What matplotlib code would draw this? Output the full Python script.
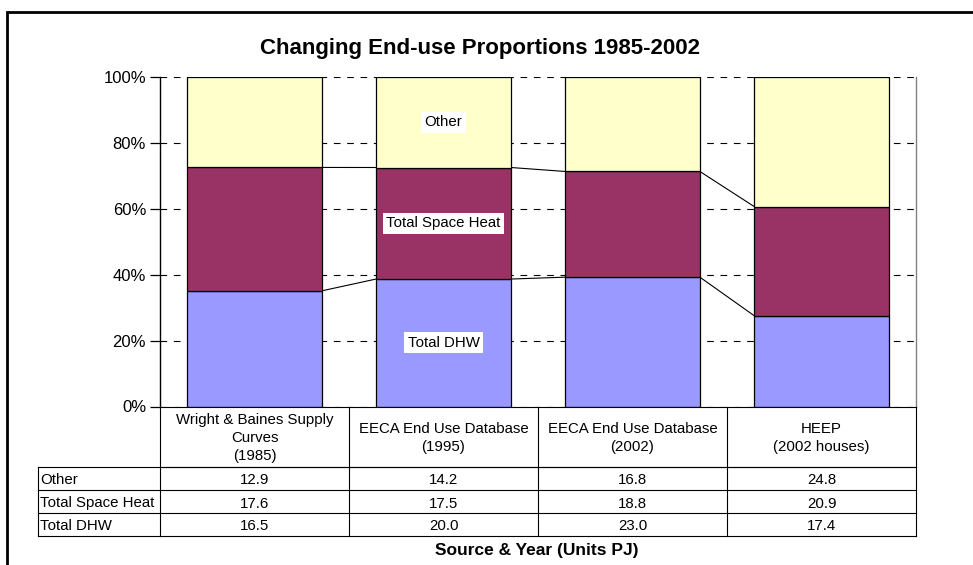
import numpy as np
import matplotlib
matplotlib.use("Agg")
import matplotlib.pyplot as plt
from matplotlib.transforms import blended_transform_factory
from matplotlib.patches import Rectangle
from matplotlib.lines import Line2D

plt.rcParams['font.family'] = ['Liberation Sans', 'DejaVu Sans']

# end-use energy by source (PJ)
categories = ["Wright & Baines Supply\nCurves\n(1985)",
              "EECA End Use Database\n(1995)",
              "EECA End Use Database\n(2002)",
              "HEEP\n(2002 houses)"]
series_names = ["Total DHW", "Total Space Heat", "Other"]
dhw = [16.5, 20.0, 23.0, 17.4]
space_heat = [17.6, 17.5, 18.8, 20.9]
other = [12.9, 14.2, 16.8, 24.8]
colours = ["#9999FF", "#993366", "#FFFFCC"]

W, H = 973, 565
fig = plt.figure(figsize=(W / 100, H / 100), dpi=100)


def fx(px):
    return px / W


def fy(py):
    return 1 - py / H


# frame round the chart
fig.patches.append(Rectangle((fx(7), fy(600)), fx(1000), fy(12) - fy(600),
                             transform=fig.transFigure, fill=False,
                             edgecolor="black", linewidth=2, zorder=10))

plot_l, plot_r, plot_t, plot_b = 160, 916, 77, 406.5
ax = fig.add_axes([fx(plot_l), fy(plot_b), fx(plot_r - plot_l), fy(plot_t) - fy(plot_b)])

values = np.array([dhw, space_heat, other])
pct = values / values.sum(axis=0) * 100
x = np.arange(len(categories))
width = 0.713

fs_small = 10.8

bottom = np.zeros(len(categories))
for i, name in enumerate(series_names):
    ax.bar(x, pct[i], width, bottom=bottom, color=colours[i],
           edgecolor="black", linewidth=0.9, zorder=3)
    # series name shown on the second column only
    ax.text(x[1], bottom[1] + pct[i][1] / 2, name, ha="center", va="center",
            fontsize=fs_small, zorder=5,
            bbox=dict(facecolor="white", edgecolor="none", pad=2.5))
    bottom += pct[i]

# series lines between adjacent columns
cum = np.cumsum(pct, axis=0)
for level in cum[:2]:
    for j in range(len(x) - 1):
        ax.plot([x[j] + width / 2, x[j + 1] - width / 2], [level[j], level[j + 1]],
                color="black", linewidth=0.8, zorder=2)

ax.set_xlim(-0.5, len(categories) - 0.5)
ax.set_ylim(0, 100)
ax.set_yticks(np.arange(0, 101, 20))
ax.set_yticklabels([f"{v}%" for v in range(0, 101, 20)], fontsize=12)
ax.set_xticks([])
ax.tick_params(axis="y", direction="out", length=7, width=0.9, pad=3)
ax.grid(axis="y", color="black", linestyle=(0, (6, 6)), linewidth=0.8, zorder=0)
ax.set_axisbelow(True)
for side in ["top", "bottom"]:
    ax.spines[side].set_visible(False)
ax.spines["left"].set_linewidth(1.0)
ax.spines["right"].set_color("#808080")
ax.spines["right"].set_linewidth(1.0)

fig.text(fx(480), fy(48.5), "Changing End-use Proportions 1985-2002",
         ha="center", va="center", fontsize=16, fontweight="bold")

# data table under the columns
tr = blended_transform_factory(ax.transData, fig.transFigure)
edges = np.arange(len(categories) + 1) - 0.5
head_t, head_b = 406.5, 467
row_h = 23
rows = [("Other", other), ("Total Space Heat", space_heat), ("Total DHW", dhw)]
table_b = head_b + row_h * len(rows)
lab_l = 38

line_kw = dict(color="black", linewidth=0.8)
for e in edges:
    fig.add_artist(Line2D([e, e], [fy(head_t), fy(table_b)], transform=tr, **line_kw))
for yy in [head_t, head_b]:
    fig.add_artist(Line2D([edges[0], edges[-1]], [fy(yy), fy(yy)], transform=tr, **line_kw))
for k in range(len(rows) + 1):
    yy = head_b + k * row_h
    fig.add_artist(Line2D([fx(lab_l), fx(plot_l)], [fy(yy), fy(yy)],
                          transform=fig.transFigure, **line_kw))
    fig.add_artist(Line2D([edges[0], edges[-1]], [fy(yy), fy(yy)], transform=tr, **line_kw))
fig.add_artist(Line2D([fx(lab_l), fx(lab_l)], [fy(head_b), fy(table_b)],
                      transform=fig.transFigure, **line_kw))

for xi, cat in zip(x, categories):
    fig.text(xi, fy((head_t + head_b) / 2 + 1), cat, transform=tr, ha="center",
             va="center", fontsize=fs_small, linespacing=1.38)
for k, (name, vals) in enumerate(rows):
    yc = fy(head_b + k * row_h + row_h / 2 + 2)
    fig.text(fx(lab_l + 2), yc, name, ha="left", va="center", fontsize=fs_small)
    for xi, v in zip(x, vals):
        fig.text(xi, yc, f"{v:.1f}", transform=tr, ha="center", va="center", fontsize=fs_small)

fig.text(fx(537), fy(551), "Source & Year (Units PJ)",
         ha="center", va="center", fontsize=12.5, fontweight="bold")

fig.savefig("out.png", dpi=100)
